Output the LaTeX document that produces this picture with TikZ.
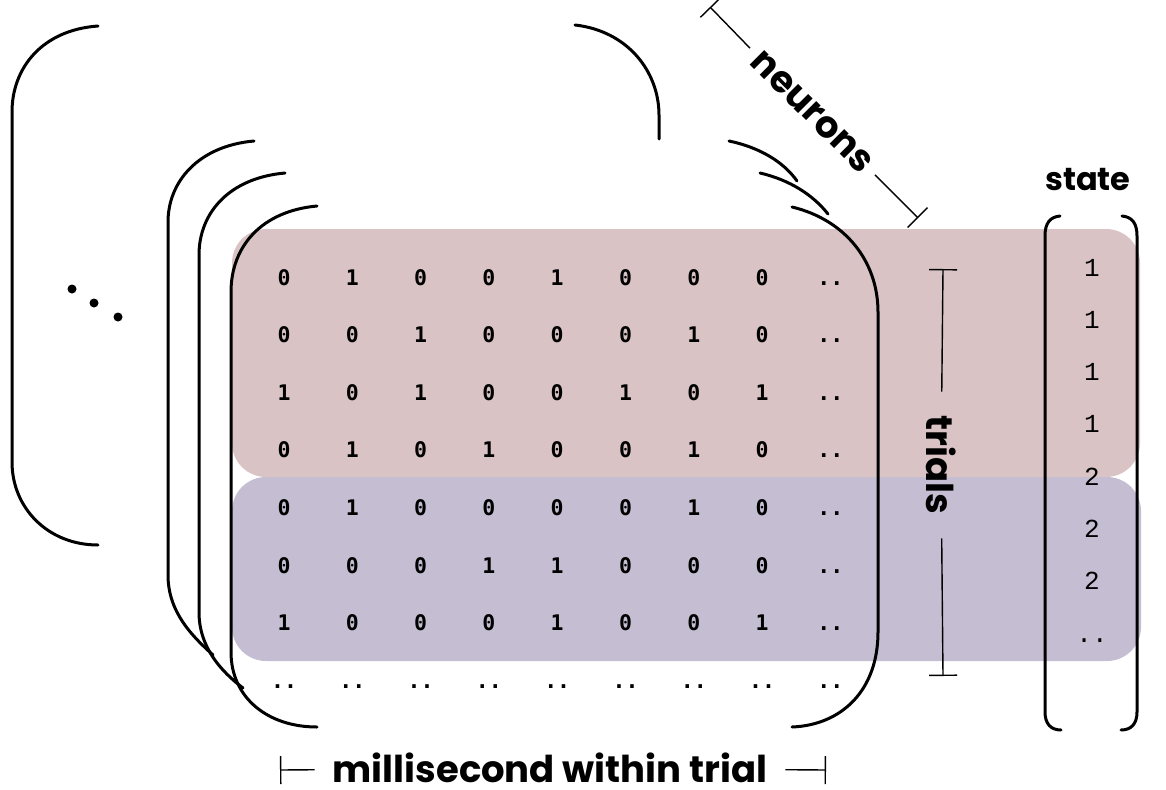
\documentclass[tikz,border=0pt]{standalone}
\usepackage{fontspec}
\setsansfont{Poppins}
\newfontfamily\matfont{DejaVu Sans Mono}
\newfontfamily\statefont{Liberation Mono}
\usetikzlibrary{arrows.meta}
\definecolor{pinkband}{RGB}{217,195,197}
\definecolor{purpleband}{RGB}{197,190,210}
\tikzset{
  band/.style={rounded corners=34pt, draw=none},
  brk/.style={line width=3pt, line cap=round, line join=round},
  cell/.style={font=\matfont\bfseries\fontsize{21.5}{21.5}\selectfont, inner sep=0pt, anchor=base},
  stcell/.style={font=\statefont\fontsize{26}{26}\selectfont, inner sep=0pt, anchor=base},
  lbl/.style={font=\sffamily\bfseries\fontsize{37}{37}\selectfont, inner ysep=0pt},
  lblsm/.style={font=\sffamily\bfseries\fontsize{32}{32}\selectfont, inner sep=0pt},
  dimline/.style={line width=1.4pt},
  bartip/.style={{Bar[width=28pt,line width=1.4pt]}-},
  dotmark/.style={circle, fill=black, inner sep=0pt, minimum size=9pt}
}
\begin{document}
\begin{tikzpicture}[x=1pt,y=-1pt]
\useasboundingbox (0,0) rectangle (1166,789);
% bands
\fill[pinkband, band] (232,229) rectangle (1140,477);
\fill[purpleband, band] (232,477) rectangle (1141,661);
% back bracket
\draw[brk] (98,26) .. controls (42,30) and (12,68) .. (12,112) -- (12,462) .. controls (12,508) and (48,545) .. (98,545);
\draw[brk] (575,25) .. controls (628,31) and (659,72) .. (659,115) -- (659,139);
% second bracket
\draw[brk] (254,141) .. controls (198,146) and (168,182) .. (168,222) -- (168,575) .. controls (168,612) and (192,636) .. (213,655);
\draw[brk] (729,141) .. controls (758,147) and (783,161) .. (797,181);
% third bracket
\draw[brk] (285,173) .. controls (229,178) and (199,213) .. (199,255) -- (199,612) .. controls (199,648) and (222,672) .. (243,688);
\draw[brk] (760,173) .. controls (790,180) and (813,195) .. (828,214);
% front bracket
\draw[brk] (317,206) .. controls (262,211) and (231,246) .. (231,292) -- (231,652) .. controls (231,698) and (268,727) .. (317,727);
\draw[brk] (792,207) .. controls (846,220) and (878,262) .. (878,312) -- (878,632) .. controls (878,690) and (842,725) .. (792,727);
% state brackets
\draw[brk] (1060,216) .. controls (1050,217) and (1045,223) .. (1045,236) -- (1045,712) .. controls (1045,724) and (1051,730) .. (1061,730);
\draw[brk] (1122,216) .. controls (1132,217) and (1137,223) .. (1137,236) -- (1137,712) .. controls (1137,724) and (1131,730) .. (1121,730);
% dots
\node[dotmark] (d1) at (72,289) {};
\node[dotmark] (d2) at (94,303) {};
\node[dotmark] (d3) at (118,317) {};
% matrix
\foreach \r/\rowdat in {%
  1/{0,1,0,0,1,0,0,0,..},%
  2/{0,0,1,0,0,0,1,0,..},%
  3/{1,0,1,0,0,1,0,1,..},%
  4/{0,1,0,1,0,0,1,0,..},%
  5/{0,1,0,0,0,0,1,0,..},%
  6/{0,0,0,1,1,0,0,0,..},%
  7/{1,0,0,0,1,0,0,1,..},%
  8/{..,..,..,..,..,..,..,..,..}}{
  \foreach \v [count=\c] in \rowdat {
    \node[cell] (m-\r-\c) at ({284+68.3*(\c-1)},{285+57.6*(\r-1)}) {\v};
  }
}
% state column
\foreach \v [count=\i] in {1,1,1,1,2,2,2,..}{
  \node[stcell] (s-\i) at (1092,{276+52.3*(\i-1)}) {\v};
}
\node[lblsm] (statelbl) at (1088,180) {state};
% neurons
\coordinate (nA) at (710,7);
\coordinate (nB) at (918,218);
\node[font=\sffamily\bfseries\fontsize{37}{37}\selectfont, rotate=-45, inner xsep=10pt, inner ysep=0pt] (neurons) at (812,112) {neurons};
\draw[dimline, bartip] (nA) -- (neurons);
\draw[dimline, bartip] (nB) -- (neurons);
% trials
\coordinate (tA) at (943,269);
\coordinate (tB) at (943,676);
\node[font=\sffamily\bfseries\fontsize{37}{37}\selectfont, rotate=-90, inner xsep=24pt, inner ysep=0pt] (trials) at (941,465) {trials};
\draw[dimline, bartip] (tA) -- (trials);
\draw[dimline, bartip] (tB) -- (trials);
% millisecond
\coordinate (mA) at (280,770);
\coordinate (mB) at (826,770);
\node[lbl, inner xsep=18pt] (ms) at (550,768) {millisecond within trial};
\draw[dimline, bartip] (mA) -- (ms);
\draw[dimline, bartip] (mB) -- (ms);
\end{tikzpicture}
\end{document}
